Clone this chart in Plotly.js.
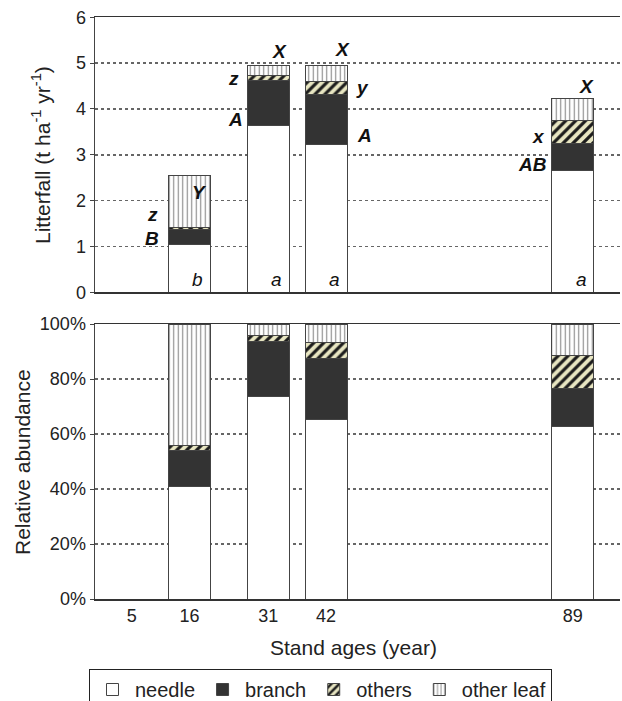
<!DOCTYPE html>
<html>
<head>
<meta charset="utf-8">
<script src="https://cdn.plot.ly/plotly-3.0.1.min.js"></script>
<style>
html,body{margin:0;padding:0;background:#fff;}
#chart{width:622px;height:701px;}
</style>
</head>
<body>
<div id="chart"></div>
<script>
// ---- data (t ha-1 yr-1); no bar at stand age 5 ----
var standAges = [5, 16, 31, 42, 89];
var needle    = [null, 1.04, 3.63, 3.23, 2.65];
var branch    = [null, 0.33, 1.00, 1.09, 0.59];
var others    = [null, 0.05, 0.11, 0.29, 0.50];
var otherLeaf = [null, 1.12, 0.20, 0.33, 0.49];
var seriesNames = ['needle', 'branch', 'others', 'other leaf'];
var tickLabels = ['5', '16', '31', '42', '89'];

// significance letters
var needleLetters = ['', 'b', 'a', 'a', 'a'];

var series = [needle, branch, others, otherLeaf];
var totals = standAges.map(function(_, i){
  return series.reduce(function(a, s){ return a + (s[i] || 0); }, 0);
});
var pct = series.map(function(s){
  return s.map(function(v, i){ return (v === null || totals[i] === 0) ? null : v / totals[i]; });
});

var FONT = 'Liberation Sans, Arial, Helvetica, sans-serif';
var lineStyle = {color: '#444444', width: 1};
var styles = [
  {color: '#ffffff', line: lineStyle},
  {color: '#333333', line: lineStyle},
  {color: '#e8e6c2', line: lineStyle,
   pattern: {shape: '/', fgcolor: '#1c1c1c', bgcolor: '#e8e6c2', size: 7, solidity: 0.45, fillmode: 'replace'}},
  {color: '#ffffff', line: lineStyle,
   pattern: {shape: '|', fgcolor: '#8a8a8a', bgcolor: '#ffffff', size: 4.5, solidity: 0.25, fillmode: 'replace'}}
];

var traces = [];
series.forEach(function(s, k){
  traces.push({type: 'bar', x: standAges, y: s, width: 8, name: seriesNames[k],
    marker: styles[k], xaxis: 'x', yaxis: 'y', showlegend: true, hoverinfo: 'skip'});
});
pct.forEach(function(s, k){
  traces.push({type: 'bar', x: standAges, y: s, width: 8, name: seriesNames[k],
    marker: styles[k], xaxis: 'x2', yaxis: 'y2', showlegend: false, hoverinfo: 'skip'});
});

var H = 701, MT = 0, MB = 40, ML = 95, MR = 2;
var PH = H - MT - MB, PW = 622 - ML - MR;
function py(p){ return (H - MB - p) / PH; }
function px(p){ return (p - ML) / PW; }

var ann = [];
function letter(text, x, y, bold){
  ann.push({text: bold ? '<b><i>' + text + '</i></b>' : '<i>' + text + '</i>',
    x: x, y: y, xref: 'x', yref: 'y', showarrow: false, xanchor: 'center', yanchor: 'middle',
    font: {family: FONT, size: 19, color: '#111'}});
}
needleLetters.forEach(function(t, i){ if (t) letter(t, standAges[i] + 1.6, 0.29, false); });
letter('z', 8.9, 1.69, true);
letter('B', 8.9, 1.18, true);
letter('Y', 17.9, 2.17, true);
letter('z', 24.4, 4.67, true);
letter('A', 24.7, 3.78, true);
letter('X', 33.2, 5.25, true);
letter('X', 45.2, 5.29, true);
letter('y', 49.0, 4.47, true);
letter('A', 49.4, 3.43, true);
letter('X', 91.7, 4.49, true);
letter('x', 82.4, 3.39, true);
letter('AB', 81.3, 2.78, true);

function title(text, x, y, angle){
  ann.push({text: text, textangle: angle, xref: 'paper', yref: 'paper', x: px(x), y: py(y),
    xanchor: 'center', yanchor: 'middle', showarrow: false,
    font: {family: FONT, size: 21, color: '#222'}});
}
title('Litterfall (t ha<sup>-1</sup> yr<sup>-1</sup>)', 41, 155, -90);
title('Relative abundance', 23, 462, -90);
title('Stand ages (year)', 353, 647, 0);

var xCommon = {range: [-2, 98], showline: true, mirror: true, linecolor: '#333', linewidth: 1.5,
  showgrid: false, zeroline: false, ticks: '', fixedrange: true};
var yCommon = {showline: true, linecolor: '#444', linewidth: 1.5, ticks: 'outside', ticklen: 4,
  tickcolor: '#444', showgrid: true, gridcolor: '#666', griddash: 'dot', gridwidth: 1.4,
  zeroline: false, tickfont: {family: FONT, size: 18, color: '#222'}, fixedrange: true};

var layout = {
  width: 622, height: 701,
  margin: {l: ML, r: MR, t: MT, b: MB, autoexpand: false},
  paper_bgcolor: '#fff', plot_bgcolor: '#fff',
  barmode: 'stack',
  font: {family: FONT, color: '#222'},
  xaxis: Object.assign({}, xCommon, {domain: [0, 1], anchor: 'y', showticklabels: false}),
  yaxis: Object.assign({}, yCommon, {domain: [py(292.3), py(17.3)], range: [0, 6], dtick: 1, anchor: 'x'}),
  xaxis2: Object.assign({}, xCommon, {domain: [0, 1], anchor: 'y2', tickmode: 'array',
    tickvals: standAges, ticktext: tickLabels, tickfont: {family: FONT, size: 18, color: '#222'}}),
  yaxis2: Object.assign({}, yCommon, {domain: [py(599), py(324)], range: [0, 1], dtick: 0.2,
    tickformat: '.0%', anchor: 'x2'}),
  showlegend: true,
  legend: {orientation: 'h', x: px(89), xanchor: 'left', y: py(669), yanchor: 'top',
    bordercolor: '#222', borderwidth: 1, bgcolor: '#fff', traceorder: 'normal',
    itemwidth: 35,
    font: {family: FONT, size: 20, color: '#222'}},
  annotations: ann
};

Plotly.newPlot('chart', traces, layout, {displayModeBar: false, staticPlot: true});
</script>
</body>
</html>
